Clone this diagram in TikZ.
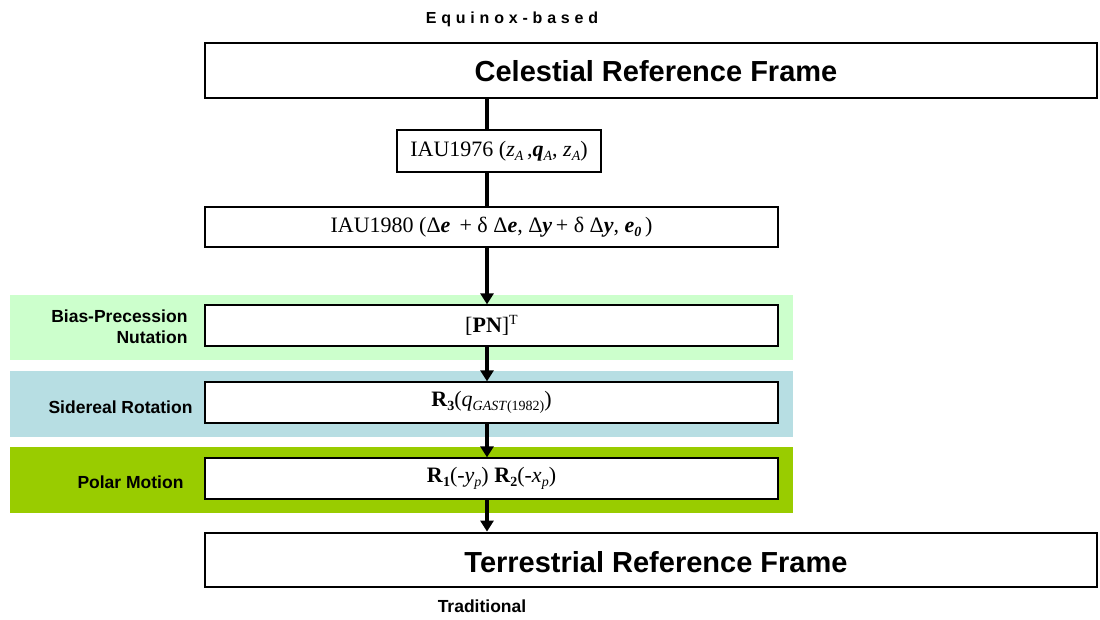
\documentclass[tikz,border=0pt]{standalone}
\usepackage{fontspec}
\setmainfont{Liberation Serif}
\newfontfamily\arialfont{Liberation Sans}
\usetikzlibrary{arrows.meta}
\newcommand\sbx[1]{\raisebox{-0.45ex}{\fontsize{14}{14}\selectfont #1}}
\newcommand\bie[1]{\textbf{\textit{#1}}}
\begin{document}
\begin{tikzpicture}[x=1pt,y=-1pt,
  bigbox/.style={draw=black,line width=2.8pt,fill=white,inner sep=0pt},
  smallbox/.style={draw=black,line width=1.3pt,fill=white,inner sep=0pt},
  bigtext/.style={font=\arialfont\bfseries\fontsize{29}{33}\selectfont},
  frmtext/.style={font=\fontsize{22}{24}\selectfont},
  lbl/.style={font=\arialfont\bfseries\fontsize{17.5}{21}\selectfont,align=right,anchor=east},
  conn/.style={line width=3.5pt},
  arr/.style={line width=3.5pt,-{Triangle[length=11pt,width=13pt]}}]
\useasboundingbox (0,0) rectangle (1100,620);
% bands
\fill[fill={rgb,255:red,204;green,255;blue,204}] (10,295) rectangle (793,360);
\fill[fill={rgb,255:red,183;green,222;blue,227}] (10,371) rectangle (793,437);
\fill[fill={rgb,255:red,153;green,204;blue,0}] (10,447) rectangle (793,513);
% boxes
\node[bigbox,minimum width=892pt,minimum height=55pt] (crf) at (651,70.5) {};
\node[bigtext] at (656,71) {Celestial Reference Frame};
\node[bigbox,minimum width=892pt,minimum height=54pt] (trf) at (651,560) {};
\node[bigtext] at (656,562) {Terrestrial Reference Frame};
\node[smallbox,minimum width=204pt,minimum height=42pt,frmtext] (iau76) at (499,151)
  {IAU1976 (\textit{z}\sbx{\textit{A}}\,,\bie{q}\sbx{\textit{A}}, \textit{z}\sbx{\textit{A}})};
\node[smallbox,minimum width=573pt,minimum height=40pt,frmtext] (iau80) at (491.5,227)
  {IAU1980 (Δ\bie{e}\ \,+ δ Δ\bie{e}, Δ\bie{y}\,+ δ Δ\bie{y}, \bie{e}\sbx{\bie{0}}\,)};
\node[smallbox,minimum width=573pt,minimum height=41pt,frmtext] (pn) at (491.5,325.5)
  {[\textbf{PN}]\raisebox{0.8ex}{\fontsize{14}{14}\selectfont T}};
\node[smallbox,minimum width=573pt,minimum height=41pt,frmtext] (r3) at (491.5,402.5)
  {\textbf{R}\sbx{\textbf{3}}(\textit{q}\sbx{\textit{GAST}(1982)})};
\node[smallbox,minimum width=573pt,minimum height=41pt,frmtext] (r12) at (491.5,478.5)
  {\textbf{R}\sbx{\textbf{1}}(-\textit{y}\sbx{\textit{p}}) \textbf{R}\sbx{\textbf{2}}(-\textit{x}\sbx{\textit{p}})};
% labels
\node[lbl] (lb1) at (191,327) {Bias-Precession\\Nutation};
\node[lbl] (lb2) at (196,407) {Sidereal Rotation};
\node[lbl] (lb3) at (187,482) {Polar Motion};
\node[font=\arialfont\bfseries\fontsize{16}{18}\selectfont\addfontfeatures{LetterSpace=30}] (eq) at (512,19) {Equinox-based};
\node[font=\arialfont\bfseries\fontsize{17.5}{20}\selectfont] (trad) at (482,606) {Traditional};
% connectors
\coordinate (x) at (487,0);
\draw[conn] (crf.south -| x) -- (iau76.north -| x);
\draw[conn] (iau76.south -| x) -- (iau80.north -| x);
\draw[arr] (iau80.south -| x) -- (pn.north -| x);
\draw[arr] (pn.south -| x) -- (r3.north -| x);
\draw[arr] (r3.south -| x) -- (r12.north -| x);
\draw[arr] (r12.south -| x) -- (trf.north -| x);
\end{tikzpicture}
\end{document}
